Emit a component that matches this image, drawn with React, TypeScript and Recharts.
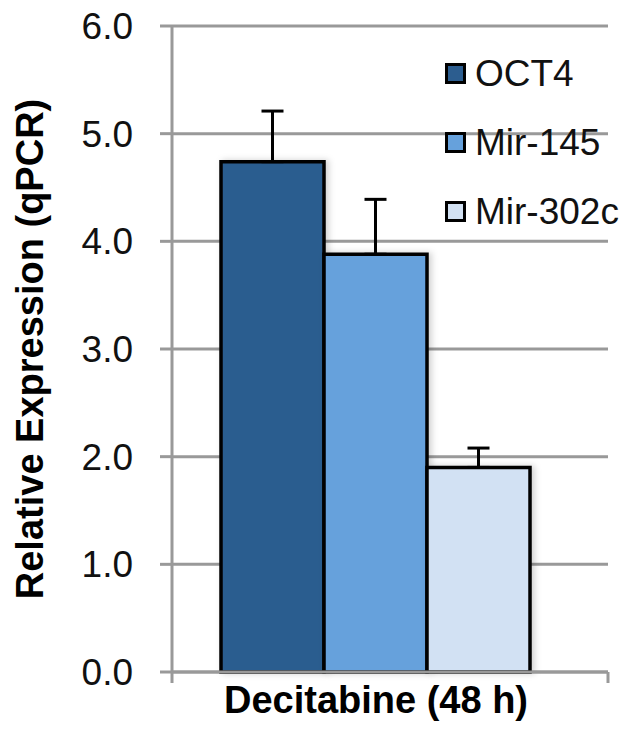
import React from 'react';
import { BarChart, Bar, XAxis, YAxis, CartesianGrid, ErrorBar } from 'recharts';

const categories = ['Decitabine (48 h)'];
const seriesNames = ['OCT4', 'Mir-145', 'Mir-302c'];
const oct4 = [4.74];
const mir145 = [3.88];
const mir302c = [1.9];
const oct4Err = [0.47];
const mir145Err = [0.51];
const mir302cErr = [0.18];
const yTicks = [0, 1, 2, 3, 4, 5, 6];

const colors = ['#2C5D8F', '#66A1DC', '#D2E1F3'];
const FONT = '"Liberation Sans", Arial, sans-serif';
const AXIS = '#999';

const values = [oct4, mir145, mir302c];
const errors = [oct4Err, mir145Err, mir302cErr];

const data = categories.map((name, i) => {
  const row: Record<string, any> = { name };
  seriesNames.forEach((s, k) => {
    row[s] = values[k][i];
    row[s + '_err'] = [0, errors[k][i]];
  });
  return row;
});

// legend drawn as an overlay so it does not shrink the plot area
const LegendBox = () => (
  <div style={{ position: 'absolute', left: 445, top: 39, fontFamily: FONT }}>
    {seriesNames.map((s, k) => (
      <div key={s} style={{ display: 'flex', alignItems: 'center', height: 69 }}>
        <div style={{ width: 15, height: 15, background: colors[k], border: '3px solid #000', marginRight: 9 }} />
        <span style={{ fontSize: 37, color: '#111', lineHeight: 1 }}>{s}</span>
      </div>
    ))}
  </div>
);

const XTick = (props: any) => {
  const { x, y, payload } = props;
  return (
    <text x={x} y={y + 20} textAnchor="middle" dominantBaseline="central" fontFamily={FONT} fontSize={38} fontWeight="bold" fill="#000">
      {payload.value}
    </text>
  );
};

// y title, bar shadow filter and the small axis end ticks
const Overlay = () => (
  <svg width={636} height={736} style={{ position: 'absolute', left: 0, top: 0, pointerEvents: 'none' }}>
    <defs>
      <filter id="barShadow" x="-20%" y="-5%" width="140%" height="110%">
        <feDropShadow dx={3} dy={0} stdDeviation={3} floodColor="#000" floodOpacity={0.18} />
      </filter>
    </defs>
    <text x={30} y={349} transform="rotate(-90, 30, 349)" textAnchor="middle" dominantBaseline="central" fontFamily={FONT} fontSize={38} fontWeight="bold" fill="#000">
      Relative Expression (qPCR)
    </text>
    <line x1={172} y1={672} x2={172} y2={683} stroke={AXIS} strokeWidth={3} />
    <line x1={608} y1={672} x2={608} y2={683} stroke={AXIS} strokeWidth={3} />
  </svg>
);

export default function App() {
  return (
    <div style={{ position: 'absolute', left: 0, top: 0, width: 636, height: 736, background: '#fff' }}>
      <Overlay />
      <div style={{ position: 'absolute', left: 0, top: 0 }}>
        <BarChart
          width={636}
          height={736}
          data={data}
          margin={{ top: 26, right: 28, bottom: 34, left: 0 }}
          barCategoryGap={49}
          barGap={0}
        >
          <CartesianGrid vertical={false} stroke={AXIS} strokeWidth={3} />
          <XAxis
            dataKey="name"
            height={30}
            padding={{ left: 0, right: 28 }}
            axisLine={{ stroke: AXIS, strokeWidth: 3 }}
            tickLine={false}
            tick={<XTick />}
            interval={0}
          />
          <YAxis
            width={172}
            domain={[0, 6]}
            ticks={yTicks}
            tickFormatter={(v: number) => v.toFixed(1)}
            axisLine={{ stroke: AXIS, strokeWidth: 3 }}
            tickLine={{ stroke: AXIS, strokeWidth: 3 }}
            tickSize={12}
            tickMargin={27}
            tick={{ fontFamily: FONT, fontSize: 37, fill: '#111' }}
          />
          {seriesNames.map((s, k) => (
            <Bar
              key={s}
              dataKey={s}
              fill={colors[k]}
              stroke="#000"
              strokeWidth={3.5}
              filter="url(#barShadow)"
              isAnimationActive={false}
            >
              <ErrorBar dataKey={s + '_err'} direction="y" width={11} stroke="#000" strokeWidth={3} />
            </Bar>
          ))}
        </BarChart>
      </div>
      <LegendBox />
    </div>
  );
}
